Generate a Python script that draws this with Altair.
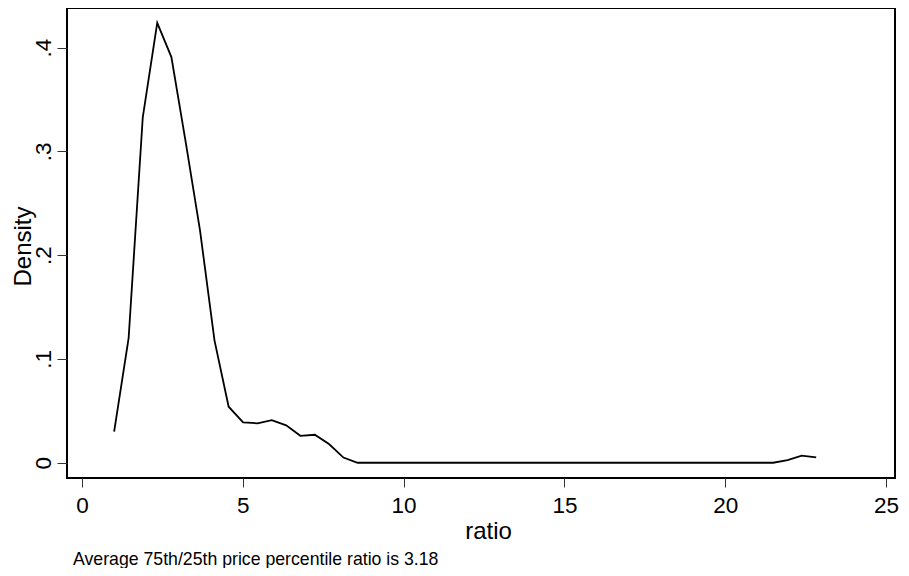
import altair as alt
import pandas as pd

# Kernel density estimate evaluated at 50 points
ratio = [1.00, 1.45, 1.89, 2.34, 2.78, 3.23, 3.67, 4.12, 4.56, 5.01,
         5.46, 5.90, 6.35, 6.79, 7.24, 7.68, 8.13, 8.57, 9.02, 9.46,
         9.91, 10.36, 10.80, 11.25, 11.69, 12.14, 12.58, 13.03, 13.47, 13.92,
         14.37, 14.81, 15.26, 15.70, 16.15, 16.59, 17.04, 17.48, 17.93, 18.37,
         18.82, 19.27, 19.71, 20.16, 20.60, 21.05, 21.49, 21.94, 22.38, 22.83]
density = [0.030, 0.120, 0.333, 0.424, 0.391, 0.308, 0.224, 0.118, 0.054, 0.039,
           0.038, 0.041, 0.036, 0.026, 0.027, 0.018, 0.005, 0.0, 0.0, 0.0,
           0.0, 0.0, 0.0, 0.0, 0.0, 0.0, 0.0, 0.0, 0.0, 0.0,
           0.0, 0.0, 0.0, 0.0, 0.0, 0.0, 0.0, 0.0, 0.0, 0.0,
           0.0, 0.0, 0.0, 0.0, 0.0, 0.0, 0.0, 0.0026, 0.0068, 0.0052]

x_ticks = [0, 5, 10, 15, 20, 25]
y_ticks = [0, 0.1, 0.2, 0.3, 0.4]
caption = ["Average 75th/25th price percentile ratio is 3.18"]

FONT = "Liberation Sans"

df = pd.DataFrame({"ratio": ratio, "density": density})
cap_df = pd.DataFrame({"t": caption})

line = alt.Chart(df).mark_line(color="black", strokeWidth=1.8).encode(
    x=alt.X("ratio:Q",
            scale=alt.Scale(domain=[-0.466, 25.28], nice=False, zero=False),
            axis=alt.Axis(values=x_ticks, title="ratio", grid=False, domain=False,
                          tickSize=9, tickColor="#333", tickWidth=1,
                          labelFontSize=22.5, labelFont=FONT, labelColor="black",
                          labelBaseline="alphabetic", labelPadding=25,
                          labelFlush=False, labelOverlap=False,
                          titleFontSize=24, titleFont=FONT, titleFontWeight="normal",
                          titleColor="black", titleBaseline="alphabetic",
                          titleX=421, titleY=60, titleAnchor="middle")),
    y=alt.Y("density:Q",
            scale=alt.Scale(domain=[-0.0147, 0.4383], nice=False, zero=False),
            axis=alt.Axis(values=y_ticks, title="Density", grid=False, domain=False,
                          tickSize=10, tickColor="#333", tickWidth=1,
                          labelExpr="datum.value == 0 ? '0' : replace(format(datum.value, '.1f'), '0.', '.')",
                          labelAngle=270, labelAlign="center", labelBaseline="alphabetic",
                          labelPadding=7, labelFontSize=22.5, labelFont=FONT,
                          labelColor="black", labelFlush=False, labelOverlap=False,
                          titleFontSize=24, titleFont=FONT, titleFontWeight="normal",
                          titleColor="black", titleAngle=270, titleBaseline="alphabetic",
                          titleAlign="center", titleX=-37, titleY=238)),
)

cap = alt.Chart(cap_df).mark_text(
    align="left", baseline="alphabetic", font=FONT, fontSize=17.7, color="black"
).encode(x=alt.value(6), y=alt.value(557), text="t:N")

chart = alt.layer(line, cap).properties(
    width=828, height=470,
    autosize=alt.AutoSizeParams(type="none"),
    padding={"left": 59, "top": 0, "right": 6, "bottom": 90},
    background="white",
).configure_view(stroke="black", strokeWidth=2)

chart.save("out.html", embed_options={"renderer": "svg", "actions": False})
